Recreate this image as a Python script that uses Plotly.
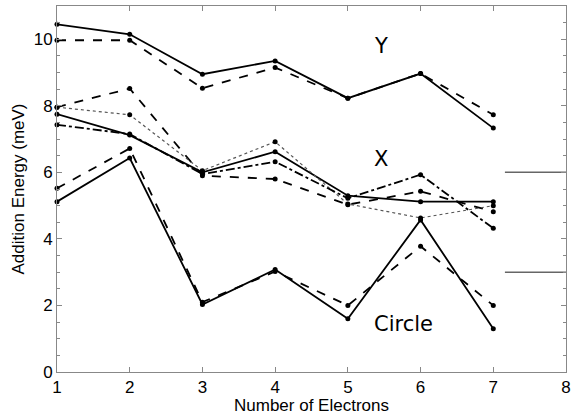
import plotly.graph_objects as go

electrons = [1, 2, 3, 4, 5, 6, 7]

# Y shape
y_solid = [10.45, 10.15, 8.95, 9.35, 8.23, 8.97, 7.33]
y_dashed = [9.97, 9.97, 8.53, 9.15, 8.23, 8.97, 7.73]

# X shape
x_solid = [7.75, 7.12, 6.0, 6.62, 5.3, 5.12, 5.12]
x_dashed = [7.96, 8.52, 5.9, 5.8, 5.03, 5.43, 4.82]
x_dotted = [7.96, 7.73, 6.05, 6.92, 5.05, 4.63, 5.0]
x_dashdot = [7.43, 7.15, 5.95, 6.32, 5.22, 5.93, 4.32]

# Circle shape
c_solid = [5.12, 6.43, 2.03, 3.08, 1.6, 4.57, 1.3]
c_dashed = [5.52, 6.72, 2.1, 3.02, 2.0, 3.78, 2.0]

# reference levels at right
ref_x = [7.16, 8.0]
ref_levels = [6.0, 3.0]

labels = ["Y", "X", "Circle"]
label_x = [5.45, 5.45, 5.77]
label_y = [9.8, 6.4, 1.45]

fig = go.Figure()

def add(y, dash, color="black", width=1.8, msize=5):
    fig.add_trace(go.Scatter(
        x=electrons, y=y, mode="lines+markers",
        line=dict(color=color, width=width, dash=dash),
        marker=dict(color="black", size=msize, symbol="circle"),
        showlegend=False, cliponaxis=False))

add(y_solid, "solid")
add(y_dashed, "dash")
add(x_solid, "solid")
add(x_dashed, "dash")
add(x_dotted, "dot", color="#555555", width=1.2)
add(x_dashdot, "dashdot")
add(c_solid, "solid")
add(c_dashed, "dash")

for lv in ref_levels:
    fig.add_trace(go.Scatter(x=ref_x, y=[lv, lv], mode="lines",
                             line=dict(color="#666666", width=1.5),
                             showlegend=False))

for t, lx, ly in zip(labels, label_x, label_y):
    fig.add_annotation(x=lx, y=ly, text=t, showarrow=False,
                       font=dict(family="DejaVu Sans", size=21, color="black"))

axis_common = dict(
    showline=True, linecolor="#888888", linewidth=1, mirror="ticks",
    ticks="inside", tickcolor="#888888", ticklen=5, showgrid=False,
    zeroline=False, tickfont=dict(family="Liberation Sans", size=17, color="black"),
)

fig.update_layout(
    width=576, height=415,
    margin=dict(l=57, r=7, t=5, b=43),
    plot_bgcolor="white", paper_bgcolor="white",
    xaxis=dict(range=[1, 8], tickmode="linear", tick0=1, dtick=1,
               title=dict(text="Number of Electrons", standoff=0,
                          font=dict(family="Liberation Sans", size=17, color="black")),
               **axis_common),
    yaxis=dict(range=[0, 11], tickmode="linear", tick0=0, dtick=2,
               minor=dict(ticks="inside", dtick=0.5, ticklen=3, tickcolor="#888888", showgrid=False),
               title=dict(text="Addition Energy (meV)", standoff=4,
                          font=dict(family="Liberation Sans", size=17, color="black")),
               **axis_common),
)

fig.write_html("out.html")
